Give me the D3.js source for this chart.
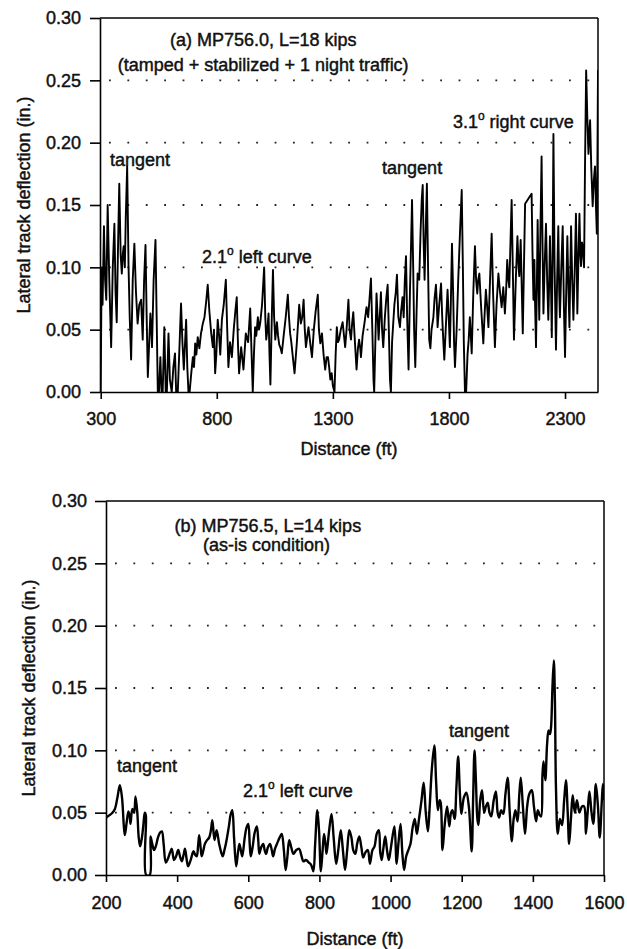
<!DOCTYPE html>
<html><head><meta charset="utf-8">
<script src="https://cdn.jsdelivr.net/npm/d3@7"></script>
<style>
html,body{margin:0;padding:0;background:#fff;}
svg text{font-family:"Liberation Sans",Arial,Helvetica,sans-serif;fill:#111;stroke:#111;stroke-width:0.45px;}
</style></head><body>
<svg id="fig" width="627" height="949"></svg>
<script>
// Lateral track deflection measurements, [distance (ft), deflection (in.)]
const seriesA = [
[300,0.0],[304,0.10],[308,0.07],[314,0.133],[319,0.09],[324,0.074],[330,0.150],[337,0.09],[345,0.036],[352,0.10],[359,0.135],[364,0.08],[369,0.056],[375,0.12],[380,0.167],[386,0.11],[391,0.095],[395,0.11],[399,0.117],[404,0.10],[408,0.14],[414,0.181],[420,0.10],[425,0.06],[431,0.026],[438,0.09],[445,0.119],[452,0.08],[459,0.055],[466,0.07],[474,0.074],[481,0.042],[487,0.09],[493,0.118],[498,0.06],[503,0.012],[509,0.04],[514,0.063],[518,0.05],[521,0.036],[528,0.09],[536,0.122],[541,0.06],[546,0.0],[551,0.0],[557,0.028],[562,0.0],[567,0.0],[574,0.052],[580,0.0],[585,0.0],[592,0.047],[598,0.01],[606,0.0],[613,0.02],[620,0.031],[625,0.0],[632,0.0],[640,0.04],[646,0.071],[652,0.04],[658,0.018],[668,0.058],[673,0.02],[678,0.0],[683,0.0],[690,0.015],[697,0.028],[702,0.02],[707,0.039],[712,0.03],[718,0.044],[725,0.035],[732,0.047],[740,0.055],[747,0.06],[754,0.072],[761,0.086],[768,0.065],[776,0.047],[783,0.036],[788,0.05],[793,0.015],[798,0.03],[804,0.058],[810,0.045],[815,0.03],
[822,0.058],[830,0.07],[839,0.090],[845,0.05],[850,0.020],[857,0.04],[865,0.028],[873,0.05],[880,0.065],[886,0.076],[891,0.04],[896,0.015],[905,0.036],[915,0.018],[925,0.047],[935,0.04],[944,0.067],[950,0.03],[955,0.0],[960,0.03],[965,0.052],[970,0.045],[977,0.060],[982,0.05],[987,0.055],[995,0.07],[1004,0.100],[1009,0.06],[1013,0.042],[1018,0.05],[1023,0.063],[1027,0.03],[1031,0.006],[1037,0.06],[1042,0.098],[1047,0.06],[1052,0.042],[1059,0.056],[1064,0.045],[1069,0.038],[1075,0.035],[1080,0.031],[1088,0.045],[1097,0.06],[1106,0.078],[1111,0.06],[1116,0.047],[1121,0.04],[1126,0.031],[1135,0.015],[1145,0.04],[1155,0.070],[1162,0.055],[1168,0.06],[1174,0.074],[1179,0.05],[1184,0.036],[1190,0.045],[1195,0.052],[1202,0.04],[1210,0.028],[1218,0.05],[1226,0.065],[1235,0.078],[1240,0.05],[1246,0.039],[1253,0.047],[1260,0.03],[1267,0.018],[1273,0.028],[1279,0.028],[1284,0.02],[1289,0.010],[1295,0.015],[1300,0.005],[1307,0.0],[1312,0.03],[1317,0.052],[1322,0.04],[1327,0.042],[1334,0.05],[1342,0.056],[1348,0.045],[1353,0.036],[1359,0.05],
[1367,0.074],[1372,0.05],[1378,0.042],[1383,0.055],[1388,0.064],[1395,0.04],[1402,0.018],[1408,0.035],[1413,0.042],[1418,0.035],[1421,0.028],[1428,0.045],[1436,0.055],[1445,0.068],[1452,0.06],[1458,0.075],[1464,0.091],[1470,0.05],[1475,0.01],[1478,0.0],[1483,0.04],[1488,0.079],[1493,0.06],[1497,0.042],[1502,0.06],[1507,0.080],[1512,0.05],[1517,0.036],[1524,0.06],[1530,0.075],[1536,0.086],[1541,0.05],[1546,0.01],[1550,0.0],[1555,0.04],[1560,0.055],[1565,0.07],[1571,0.08],[1576,0.094],[1582,0.06],[1589,0.052],[1594,0.065],[1600,0.076],[1605,0.06],[1610,0.09],[1615,0.109],[1620,0.06],[1626,0.018],[1632,0.08],[1637,0.12],[1641,0.154],[1646,0.10],[1650,0.05],[1655,0.020],[1660,0.06],[1665,0.095],[1669,0.092],[1672,0.090],[1678,0.13],[1683,0.155],[1687,0.166],[1691,0.12],[1695,0.090],[1700,0.13],[1705,0.167],[1710,0.10],[1715,0.042],[1720,0.035],[1725,0.05],[1733,0.06],[1738,0.075],[1744,0.086],[1748,0.07],[1751,0.052],[1758,0.07],[1766,0.087],[1771,0.06],[1776,0.04],[1780,0.026],[1786,0.05],[1794,0.082],[1799,0.06],[1804,0.036],[1808,0.07],[1813,0.119],[1818,0.08],[1822,0.04],[1826,0.020],[1833,0.05],[1840,0.09],[1848,0.13],[1855,0.162],[1860,0.10],[1864,0.04],[1869,0.0],[1874,0.0],[1880,0.03],[1885,0.042],[1890,0.06],
[1898,0.031],[1905,0.08],[1912,0.117],[1917,0.09],[1922,0.079],[1926,0.09],[1931,0.095],[1938,0.07],[1948,0.039],[1953,0.06],[1959,0.082],[1964,0.07],[1970,0.052],[1977,0.09],[1984,0.127],[1990,0.08],[1998,0.036],[2005,0.07],[2013,0.095],[2020,0.08],[2027,0.068],[2034,0.084],[2041,0.063],[2046,0.08],[2051,0.106],[2056,0.09],[2060,0.084],[2065,0.12],[2070,0.154],[2075,0.10],[2080,0.042],[2088,0.09],[2095,0.125],[2100,0.10],[2103,0.093],[2109,0.122],[2114,0.08],[2118,0.047],[2123,0.10],[2128,0.151],[2156,0.159],[2160,0.11],[2164,0.074],[2168,0.106],[2171,0.07],[2175,0.036],[2179,0.09],[2182,0.138],[2186,0.09],[2189,0.058],[2194,0.13],[2199,0.189],[2203,0.12],[2207,0.063],[2212,0.10],[2218,0.135],[2223,0.09],[2228,0.058],[2232,0.09],[2235,0.125],[2240,0.08],[2243,0.044],[2247,0.12],[2250,0.207],[2255,0.10],[2261,0.034],[2266,0.09],[2271,0.133],[2275,0.08],[2278,0.060],[2284,0.10],[2290,0.133],[2295,0.07],[2300,0.028],[2305,0.08],[2310,0.125],[2315,0.08],[2319,0.052],[2323,0.10],[2326,0.133],[2331,0.09],[2336,0.058],[2342,0.10],[2347,0.143],[2350,0.11],[2353,0.063],[2358,0.11],[2362,0.143],[2366,0.11],[2369,0.101],[2373,0.12],[2376,0.117],[2380,0.106],[2382,0.10],[2386,0.18],[2391,0.258],[2396,0.22],[2401,0.191],[2405,0.21],[2408,0.218],[2413,0.18],[2419,0.149],[2424,0.17],[2429,0.181],[2433,0.15],[2437,0.127],[2440,0.2],[2442,0.258]
];

const seriesB = [
[200,0.046],[210,0.048],[218,0.050],[225,0.053],[232,0.062],[239,0.072],[245,0.062],[250,0.040],[253,0.032],[258,0.042],[263,0.051],[267,0.046],[269,0.041],[274,0.053],[279,0.050],[283,0.063],[288,0.050],[292,0.030],[296,0.023],[301,0.030],[305,0.040],[309,0.050],[312,0.048],[313,0.0],[323,0.0],[325,0.031],[330,0.025],[335,0.020],[341,0.024],[346,0.030],[352,0.034],[357,0.035],[362,0.025],[368,0.010],[374,0.013],[380,0.018],[385,0.021],[391,0.012],[397,0.015],[403,0.020],[408,0.015],[413,0.011],[418,0.016],[422,0.021],[427,0.012],[431,0.007],[438,0.012],[446,0.019],[451,0.016],[455,0.015],[459,0.024],[462,0.032],[466,0.022],[469,0.015],[474,0.020],[478,0.025],[484,0.028],[490,0.030],[495,0.036],[499,0.044],[505,0.028],[511,0.036],[518,0.025],[524,0.018],[528,0.015],[533,0.020],[537,0.025],[546,0.040],[550,0.048],[555,0.052],[560,0.030],[566,0.007],[571,0.018],[575,0.025],[579,0.020],[583,0.015],[590,0.030],[595,0.038],[600,0.041],[604,0.025],[607,0.015],[612,0.022],[618,0.034],[624,0.039],[628,0.028],[631,0.017],[636,0.022],[642,0.025],[646,0.020],[650,0.017],[655,0.022],[661,0.025],[666,0.020],[670,0.015],[675,0.021],[682,0.026],[688,0.030],[694,0.033],[700,0.020],[705,0.004],[710,0.015],[715,0.028],[721,0.022],[727,0.017],[735,0.020],[743,0.021],[749,0.016],[755,0.011],[762,0.012],[770,0.010],[777,0.008],[783,0.003],[788,0.025],
[794,0.052],[799,0.035],[804,0.003],[809,0.020],[813,0.033],[817,0.025],[820,0.017],[827,0.035],[834,0.049],[840,0.030],[847,0.009],[853,0.020],[860,0.036],[866,0.020],[872,0.004],[878,0.020],[884,0.036],[890,0.030],[895,0.020],[901,0.017],[906,0.025],[912,0.031],[918,0.022],[923,0.014],[929,0.018],[936,0.020],[942,0.009],[949,0.020],[955,0.023],[961,0.033],[967,0.036],[971,0.018],[975,0.012],[980,0.022],[985,0.031],[990,0.020],[995,0.012],[1000,0.020],[1005,0.030],[1011,0.039],[1017,0.009],[1022,0.025],[1028,0.041],[1033,0.018],[1038,0.004],[1044,0.015],[1050,0.020],[1056,0.025],[1062,0.038],[1068,0.045],[1074,0.033],[1080,0.045],[1087,0.060],[1093,0.074],[1099,0.050],[1105,0.035],[1110,0.055],[1116,0.085],[1123,0.104],[1128,0.075],[1133,0.052],[1138,0.060],[1141,0.058],[1146,0.020],[1152,0.040],[1159,0.055],[1165,0.039],[1170,0.050],[1174,0.052],[1180,0.045],[1185,0.070],[1190,0.095],[1195,0.065],[1199,0.049],[1206,0.062],[1213,0.066],[1220,0.055],[1228,0.019],[1232,0.060],[1236,0.100],
[1240,0.075],[1244,0.045],[1247,0.040],[1252,0.060],[1257,0.068],[1263,0.050],[1268,0.055],[1273,0.058],[1278,0.050],[1283,0.047],[1290,0.060],[1296,0.067],[1301,0.050],[1305,0.046],[1311,0.052],[1317,0.049],[1323,0.065],[1329,0.078],[1335,0.050],[1341,0.027],[1346,0.045],[1351,0.052],[1357,0.043],[1362,0.065],[1366,0.078],[1372,0.055],[1378,0.033],[1384,0.055],[1390,0.065],[1397,0.068],[1403,0.055],[1409,0.043],[1414,0.052],[1419,0.048],[1423,0.047],[1427,0.080],[1430,0.091],[1435,0.076],[1440,0.105],[1444,0.116],[1448,0.113],[1451,0.118],[1455,0.150],[1459,0.172],[1462,0.140],[1465,0.070],[1470,0.033],[1476,0.045],[1482,0.040],[1488,0.060],[1493,0.076],[1498,0.050],[1502,0.025],[1507,0.045],[1512,0.064],[1518,0.050],[1524,0.060],[1531,0.050],[1538,0.055],[1544,0.055],[1549,0.033],[1554,0.050],[1559,0.067],[1565,0.050],[1570,0.041],[1577,0.073],[1583,0.055],[1588,0.030],[1594,0.060],[1597,0.073],[1600,0.060]
];

// Axis ticks
const yTicks = [0, 0.05, 0.10, 0.15, 0.20, 0.25, 0.30];
const gridLevels = [0.05, 0.10, 0.15, 0.20, 0.25];
const xTicksA = [300, 800, 1300, 1800, 2300];
const xTicksB = [200, 400, 600, 800, 1000, 1200, 1400, 1600];

// Labels and annotations (positions in data units)
const yTitle = "Lateral track deflection (in.)";
const xTitle = "Distance (ft)";
const notesA = [
  {text:"(a) MP756.0, L=18 kips", d:1000, v:0.2775, anchor:"middle"},
  {text:"(tamped + stabilized + 1 night traffic)", d:1000, v:0.2575, anchor:"middle"},
  {text:"tangent", d:340, v:0.181},
  {text:"2.1", sup:"o", rest:" left curve", d:736, v:0.1035},
  {text:"tangent", d:1512, v:0.175},
  {text:"3.1", sup:"o", rest:" right curve", d:1817, v:0.212}
];
const notesB = [
  {text:"(b) MP756.5, L=14 kips", d:655, v:0.275, anchor:"middle"},
  {text:"(as-is condition)", d:651, v:0.26, anchor:"middle"},
  {text:"tangent", d:231, v:0.0826},
  {text:"2.1", sup:"o", rest:" left curve", d:585, v:0.0626},
  {text:"tangent", d:1164, v:0.1107}
];

const svg = d3.select("#fig");
const FONT = 18;

function drawPanel(cfg) {
  const x = d3.scaleLinear().domain(cfg.xDomain).range([cfg.left, cfg.right]);
  const y = d3.scaleLinear().domain([0, 0.30]).range([cfg.bottom, cfg.top]);
  const g = svg.append("g");

  // dotted horizontal grid
  g.append("g").selectAll("line").data(gridLevels).join("line")
    .attr("x1", cfg.left).attr("x2", cfg.right)
    .attr("y1", d => y(d)).attr("y2", d => y(d))
    .attr("stroke", "#222").attr("stroke-width", 1.8)
    .attr("stroke-dasharray", "1.8 16.6").attr("stroke-dashoffset", -9);

  // data trace
  const clipId = "clip" + cfg.id;
  g.append("clipPath").attr("id", clipId).append("rect")
    .attr("x", cfg.left).attr("y", cfg.top - 2)
    .attr("width", cfg.right - cfg.left).attr("height", cfg.bottom - cfg.top + 2);
  const line = d3.line().x(d => x(d[0])).y(d => y(d[1])).curve(cfg.curve);
  g.append("path").datum(cfg.data)
    .attr("clip-path", `url(#${clipId})`)
    .attr("d", line).attr("fill", "none").attr("stroke", "#000")
    .attr("stroke-width", cfg.lineWidth).attr("stroke-linejoin", "round");

  // frame: top and right edges
  g.append("line").attr("x1", cfg.left).attr("x2", cfg.right).attr("y1", cfg.top).attr("y2", cfg.top)
    .attr("stroke", "#000").attr("stroke-width", 1.5);
  g.append("line").attr("x1", cfg.right).attr("x2", cfg.right).attr("y1", cfg.top).attr("y2", cfg.bottom)
    .attr("stroke", "#000").attr("stroke-width", 1.5);

  // axes
  const xAxis = g.append("g").attr("transform", `translate(0,${cfg.bottom})`)
    .call(d3.axisBottom(x).tickValues(cfg.xTicks).tickFormat(d3.format("d"))
      .tickSizeInner(7).tickSizeOuter(0).tickPadding(cfg.xPad));
  const yAxis = g.append("g").attr("transform", `translate(${cfg.left},0)`)
    .call(d3.axisLeft(y).tickValues(yTicks).tickFormat(d3.format(".2f"))
      .tickSizeInner(cfg.yTick).tickSizeOuter(0).tickPadding(cfg.yPad));
  [xAxis, yAxis].forEach(a => {
    a.select(".domain").attr("stroke", "#000").attr("stroke-width", 1.6);
    a.selectAll(".tick line").attr("stroke", "#000").attr("stroke-width", 1.6);
    a.selectAll(".tick text").attr("font-size", FONT)
      .attr("font-family", "'Liberation Sans', Arial, sans-serif").attr("fill", "#111");
  });

  // axis titles
  g.append("text").attr("x", (cfg.left + cfg.right) / 2).attr("y", cfg.xTitleY)
    .attr("text-anchor", "middle").attr("font-size", FONT).text(xTitle);
  g.append("text")
    .attr("transform", `translate(${cfg.yTitleX},${(cfg.top + cfg.bottom) / 2}) rotate(-90)`)
    .attr("text-anchor", "middle").attr("font-size", FONT).text(yTitle);

  // annotations
  cfg.notes.forEach(n => {
    const t = g.append("text").attr("x", x(n.d)).attr("y", y(n.v))
      .attr("text-anchor", n.anchor || "start").attr("font-size", FONT);
    t.append("tspan").text(n.text);
    if (n.sup) {
      t.append("tspan").attr("dy", -8).attr("font-size", 12).text(n.sup);
      t.append("tspan").attr("dy", 8).text(n.rest);
    }
  });
}

drawPanel({
  id: "A", data: seriesA, notes: notesA, xDomain: [297, 2442], xTicks: xTicksA,
  left: 100, right: 598, top: 18, bottom: 392,
  curve: d3.curveLinear, lineWidth: 1.9,
  xPad: 13, yTick: 10, yPad: 9, xTitleY: 455, yTitleX: 30
});
drawPanel({
  id: "B", data: seriesB, notes: notesB, xDomain: [200, 1600], xTicks: xTicksB,
  left: 106, right: 604, top: 501, bottom: 875,
  curve: d3.curveCatmullRom.alpha(0.5), lineWidth: 2.4,
  xPad: 14, yTick: 11, yPad: 8, xTitleY: 945, yTitleX: 35
});
</script></body></html>
